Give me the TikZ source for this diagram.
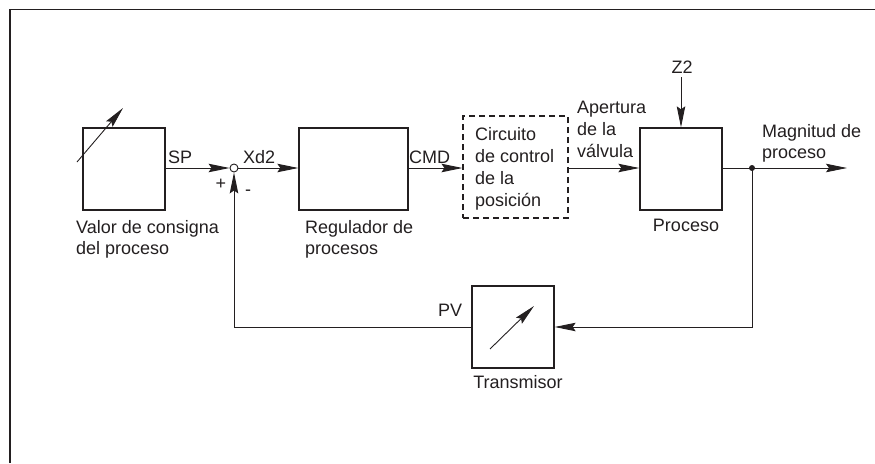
\documentclass[tikz,border=0pt]{standalone}
\usepackage{fontspec}
\setmainfont{Liberation Sans}
\usetikzlibrary{arrows.meta,calc}
\definecolor{ink}{HTML}{231F20}
\tikzset{
  blk/.style={draw=ink, line width=1.3pt, minimum width=82pt, minimum height=82pt, inner sep=0pt},
  dblk/.style={draw=ink, line width=1.1pt, dash pattern=on 6pt off 4pt, inner sep=0pt},
  arr/.style={draw=ink, line width=0.9pt, -{Stealth[length=21pt,width=8.5pt,inset=3pt]}},
  ln/.style={draw=ink, line width=0.9pt},
  lbl/.style={anchor=base west, inner sep=0pt, text=ink, font=\fontsize{18}{21.5}\selectfont},
  clbl/.style={anchor=base, inner sep=0pt, text=ink, font=\fontsize{18}{21.5}\selectfont},
}
\begin{document}
\begin{tikzpicture}[x=1pt,y=-1pt]
\useasboundingbox (0,0) rectangle (875,463);
% frame
\draw[draw=ink, line width=1.5pt] (10,463) -- (10,9.5) -- (875,9.5);

% blocks
\node[blk] (b1) at (124,169) {};
\node[blk, minimum width=109pt] (b2) at (353.5,169) {};
\node[dblk, minimum width=105pt, minimum height=102pt] (cc) at (515.5,167) {};
\node[blk] (proc) at (681,169) {};
\node[blk] (trans) at (513,327) {};

% junctions
\node[circle, draw=ink, line width=0.9pt, fill=white, minimum size=8pt, inner sep=0pt] (sum) at (234,168) {};
\node[circle, fill=ink, minimum size=6pt, inner sep=0pt] (dot) at (752,168) {};
\coordinate (out) at (847,168);
\coordinate (z2top) at (681,77);

% adjustable arrows
\coordinate (a1s) at (77,162);
\coordinate (a1e) at (123,108);
\draw[arr] (a1s) -- (a1e);
\coordinate (a2s) at (490,349);
\coordinate (a2e) at (534,306);
\draw[arr] (a2s) -- (a2e);

% main path
\draw[arr] (b1.east |- sum) -- (sum.west);
\draw[arr] (sum.east) -- (b2.west |- sum);
\draw[arr] (b2.east |- sum) -- (cc.west |- sum);
\draw[arr] (cc.east |- sum) -- (proc.west |- sum);
\draw[ln] (proc.east |- sum) -- (dot.center);
\draw[arr] (dot.center) -- (out);
\draw[arr] (z2top) -- (proc.north);

% feedback
\draw[arr] (dot.center) |- (trans.east);
\draw[arr] (trans.west) -| (sum.south);

% labels
\node[lbl] (lsp) at (168,163) {SP};
\node[lbl] (lxd) at (243,163) {Xd2};
\node[lbl] (lcmd) at (409,163) {CMD};
\node[clbl] (lplus) at (221,189) {+};
\node[clbl] (lminus) at (248,195) {-};
\node[lbl] (lv1) at (76,233) {Valor de consigna};
\node[lbl] (lv2) at (76,254) {del proceso};
\node[lbl] (lr1) at (305,233) {Regulador de};
\node[lbl] (lr2) at (305,254) {procesos};
\node[lbl] (lc1) at (475,140) {Circuito};
\node[lbl] (lc2) at (475,162) {de control};
\node[lbl] (lc3) at (475,184) {de la};
\node[lbl] (lc4) at (475,206) {posición};
\node[lbl] (la1) at (577,113) {Apertura};
\node[lbl] (la2) at (577,135) {de la};
\node[lbl] (la3) at (577,157) {válvula};
\node[clbl] (lz2) at (682,73) {Z2};
\node[clbl] (lproc) at (686,231) {Proceso};
\node[lbl] (lm1) at (762,137) {Magnitud de};
\node[lbl] (lm2) at (762,158) {proceso};
\node[lbl] (lpv) at (438,316) {PV};
\node[clbl] (ltr) at (518,388) {Transmisor};
\end{tikzpicture}
\end{document}
